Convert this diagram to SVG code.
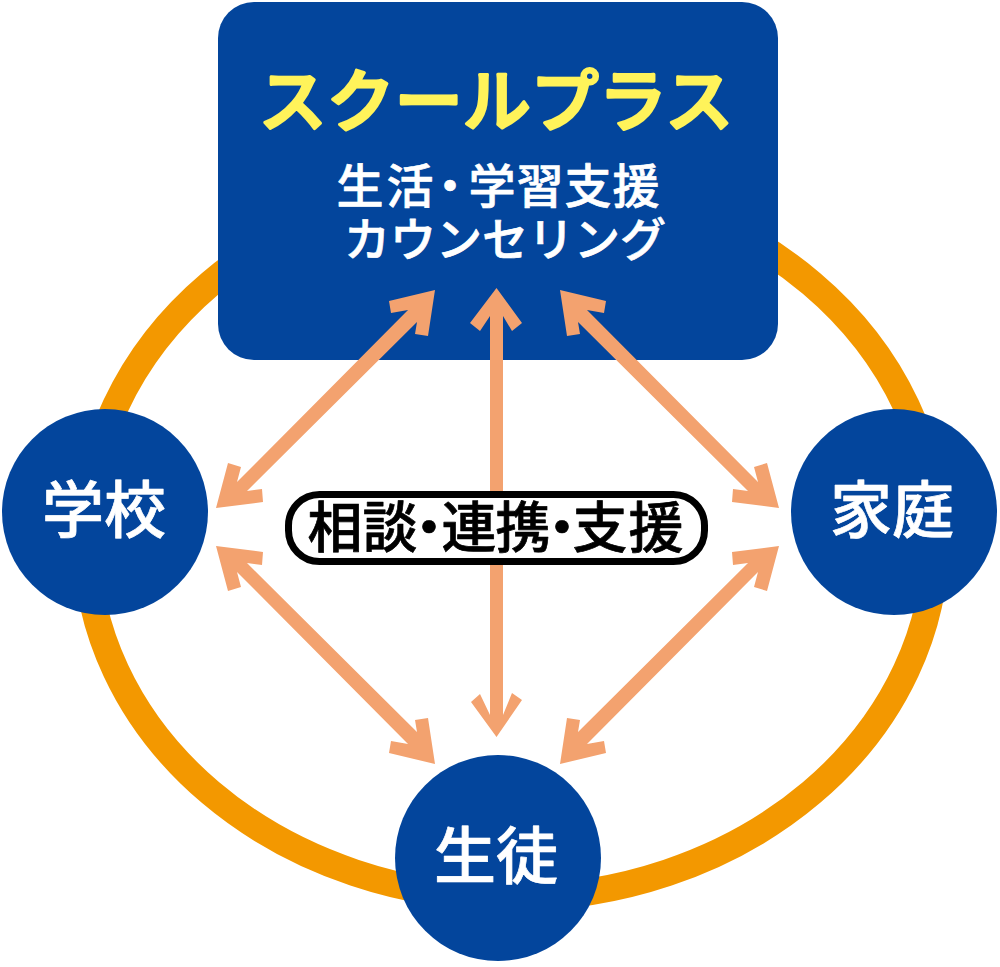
<svg xmlns="http://www.w3.org/2000/svg" width="1000" height="967" viewBox="0 0 1000 967">
<style>
text{font-family:"Noto Sans CJK JP","Noto Sans CJK SC",sans-serif;font-weight:500;text-anchor:middle;stroke-linejoin:round;stroke-width:.7}
.n{fill:#03459c}
.w{fill:#fff;stroke:#fff}
.a{fill:#f3a26f}
</style>
<defs>
<polygon id="d" class="a" points="435,290 428,336 415,334 417,322 247,491 262,489 263,502 216,508 228,463 241,467 237,482 408,310 391,313 389,301"/>
</defs>
<ellipse cx="511" cy="538" rx="425" ry="360" fill="none" stroke="#f39800" stroke-width="27"/>
<g id="center"><rect class="n" x="218" y="2" width="560" height="358" rx="36"/>
<text x="496" y="126" font-size="68" fill="#fff35a" stroke="#fff35a" style="stroke-width:3">スクールプラス</text>
<text class="w"><tspan font-size="47" x="360 410 450 492 540 588 636" y="203">生活・学習支援</tspan><tspan x="505" y="256" font-size="46">カウンセリング</tspan></text></g>
<g id="connectors">
<polygon class="a" points="496.500,288 522,323 512,331 503,316 503,715 512,693 522,700 496.500,737 471,702 480,694 490,715 490,316 480,331 470,323"/>
<use href="#d"/>
<use href="#d" transform="matrix(-1 0 0 1 995 0)"/>
<use href="#d" transform="matrix(1 0 0 -1 0 1054)"/>
<use href="#d" transform="matrix(-1 0 0 -1 995 1054)"/>
</g>
<g id="label"><rect x="288.500" y="494.500" width="416" height="67" rx="31" fill="#fff" stroke="#000" stroke-width="7"/>
<text font-size="55" x="335 390 429 469 523 562 600 656" y="547" fill="#000" stroke="#000">相談・連携・支援</text></g>
<g id="school"><circle class="n" cx="105" cy="512" r="103"/><text class="w" x="104" y="533" font-size="62">学校</text></g>
<g id="home"><circle class="n" cx="894" cy="512" r="103"/><text class="w" x="892" y="533" font-size="62">家庭</text></g>
<g id="student"><circle class="n" cx="498" cy="858" r="103"/><text class="w" x="496" y="879" font-size="62">生徒</text></g>
</svg>
